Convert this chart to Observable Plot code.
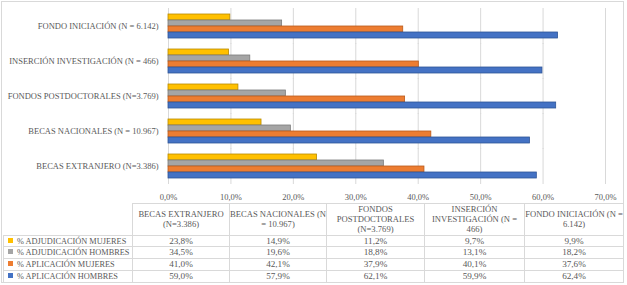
<!DOCTYPE html>
<html><head><meta charset="utf-8">
<script src="https://cdn.jsdelivr.net/npm/d3@7"></script>
<script src="https://cdn.jsdelivr.net/npm/@observablehq/plot@0.6"></script>
<style>
body{margin:0;background:#fff;}
#wrap{position:relative;width:627px;height:285px;overflow:hidden;font-family:"Liberation Serif","Times New Roman",serif;color:#595959;background:#fff;}
#border{position:absolute;left:1px;top:1px;width:623px;height:282px;border:1px solid #d9d9d9;box-sizing:border-box;}
#chart{position:absolute;left:0;top:0;}
#tbl{position:absolute;left:3px;top:203px;width:620px;border-collapse:collapse;font-size:9.2px;table-layout:fixed;}
#tbl td{border:1px solid #d9d9d9;text-align:center;padding:0;height:10.8px;line-height:9px;white-space:nowrap;overflow:visible;}
#tbl tr.head td{height:29px;line-height:10.2px;font-size:8.6px;}
#tbl td.blank{border:none;}
#tbl td.leg{text-align:left;padding-left:4px;font-size:8.3px;}
.key{display:inline-block;width:5px;height:5px;margin-right:4px;vertical-align:1px;}
</style></head>
<body>
<div id="wrap"><div id="border"></div><div id="chart"></div><table id="tbl"></table></div>
<script>
// ---- data ----
const headerLines = [
  ["BECAS EXTRANJERO", "(N=3.386)"],
  ["BECAS NACIONALES (N", "= 10.967)"],
  ["FONDOS", "POSTDOCTORALES", "(N=3.769)"],
  ["INSERCIÓN", "INVESTIGACIÓN (N =", "466)"],
  ["FONDO INICIACIÓN (N =", "6.142)"]
];
const categories = headerLines.map(l => l.join(" "));
const series = ["% ADJUDICACIÓN MUJERES", "% ADJUDICACIÓN HOMBRES", "% APLICACIÓN MUJERES", "% APLICACIÓN HOMBRES"];
const adjMujeres = [23.8, 14.9, 11.2, 9.7, 9.9];
const adjHombres = [34.5, 19.6, 18.8, 13.1, 18.2];
const aplMujeres = [41.0, 42.1, 37.9, 40.1, 37.6];
const aplHombres = [59.0, 57.9, 62.1, 59.9, 62.4];
const xTicks = [0, 10, 20, 30, 40, 50, 60, 70];
const colors = ["#FFC000", "#A5A5A5", "#ED7D31", "#4472C4"];
const strokes = ["#B88A00", "#7B7B7B", "#B95B1C", "#2F5597"];

const valuesBySeries = [adjMujeres, adjHombres, aplMujeres, aplHombres];
const data = [];
series.forEach((s, i) => categories.forEach((c, j) => data.push({series: s, category: c, value: valuesBySeries[i][j]})));
const pct = v => d3.format(".1f")(v).replace(".", ",") + "%";

const chart = Plot.plot({
  width: 627,
  height: 212,
  marginLeft: 168,
  marginRight: 22,
  marginTop: 7,
  marginBottom: 28,
  style: {fontFamily: "'Liberation Serif', 'Times New Roman', serif", fontSize: "8.5px", color: "#595959", background: "transparent"},
  x: {domain: [0, 70], ticks: xTicks, tickFormat: pct, tickSize: 0, tickPadding: 14, label: null},
  y: {domain: series, padding: 0, axis: null},
  fy: {domain: categories.slice().reverse(), paddingInner: 0.26, paddingOuter: 0.13, axis: "left", tickSize: 0, tickPadding: 10, label: null},
  color: {domain: series, range: colors},
  facet: {data, y: "category", marginLeft: 168},
  marks: [
    Plot.ruleX(xTicks, {x: d => d, stroke: "#d9d9d9", strokeWidth: 1, insetTop: -5, insetBottom: -5}),
    Plot.barX(data, {x: "value", y: "series", fill: "series", stroke: d => strokes[series.indexOf(d.series)], strokeWidth: 0.8})
  ]
});
document.getElementById("chart").appendChild(chart);

// ---- data table ----
const tbl = document.getElementById("tbl");
const colW = [129, 97, 97, 98, 100, 99];
const cg = document.createElement("colgroup");
colW.forEach(w => { const c = document.createElement("col"); c.style.width = w + "px"; cg.appendChild(c); });
tbl.appendChild(cg);
const hr = document.createElement("tr"); hr.className = "head";
const blank = document.createElement("td"); blank.className = "blank"; hr.appendChild(blank);
headerLines.forEach(lines => { const td = document.createElement("td"); td.innerHTML = lines.join("<br>"); hr.appendChild(td); });
tbl.appendChild(hr);
series.forEach((s, i) => {
  const tr = document.createElement("tr");
  const td0 = document.createElement("td"); td0.className = "leg";
  const key = document.createElement("span"); key.className = "key"; key.style.background = colors[i];
  td0.appendChild(key); td0.appendChild(document.createTextNode(s)); tr.appendChild(td0);
  valuesBySeries[i].forEach(v => { const td = document.createElement("td"); td.textContent = pct(v); tr.appendChild(td); });
  tbl.appendChild(tr);
});
</script>
</body></html>
